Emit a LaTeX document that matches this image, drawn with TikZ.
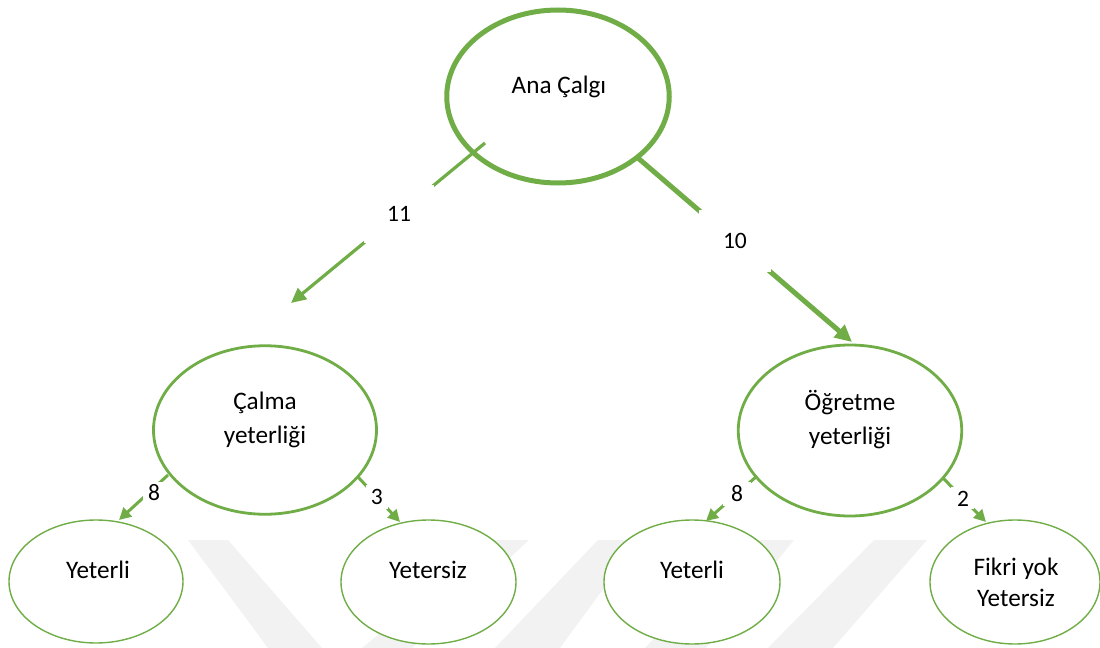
\documentclass[tikz,border=0pt]{standalone}
\usepackage{fontspec}
\setmainfont{Carlito}
\usetikzlibrary{shapes.geometric,arrows.meta}
\definecolor{leaf}{HTML}{70AD47}
\definecolor{wmark}{HTML}{F2F2F2}

\begin{document}
\begin{tikzpicture}[x=0.5pt,y=-0.5pt,
  bubble/.style={ellipse, draw=leaf, fill=white, inner sep=0pt, outer sep=0pt},
  rootbubble/.style={bubble, line width=2.5pt},
  midbubble/.style={bubble, line width=1.4pt},
  endbubble/.style={bubble, line width=0.7pt},
  caption/.style={font=\fontsize{12.6}{17}\selectfont, align=center, inner sep=0pt, text=black},
  count/.style={fill=white, inner sep=0pt, font=\fontsize{11.75}{14}\selectfont, text=black},
  biglink/.style={draw=leaf, line width=1.6pt, -{Triangle[length=7.5pt,width=7pt]}},
  heavylink/.style={draw=leaf, line width=2.5pt, -{Triangle[length=8.5pt,width=8pt]}},
  smalllink/.style={draw=leaf, line width=1.5pt, -{Triangle[length=6pt,width=6pt]}}
]
\useasboundingbox (0,0) rectangle (1100,648);

% faint background watermark bands
\fill[wmark] (188,540) -- (228,540) -- (322,648) -- (268,648) -- cycle;
\fill[wmark] (495,540) -- (529,540) -- (412,648) -- (362,648) -- cycle;
\fill[wmark] (598,540) -- (639,540) -- (560,648) -- (495,648) -- cycle;
\fill[wmark] (748,540) -- (794,540) -- (706,648) -- (645,648) -- cycle;
\fill[wmark] (874,540) -- (927,540) -- (833,648) -- (768,648) -- cycle;

% ellipses
\node[rootbubble, minimum width=111.25pt, minimum height=86.5pt] (ana) at (558,96.5) {};
\node[midbubble, minimum width=111.5pt, minimum height=84.25pt] (calma) at (265,430) {};
\node[midbubble, minimum width=111.75pt, minimum height=85.5pt] (ogretme) at (850,430.5) {};
\node[endbubble, minimum width=87pt, minimum height=61.5pt] (cy) at (96,581.5) {};
\node[endbubble, minimum width=87.5pt, minimum height=62pt] (cn) at (428.5,582) {};
\node[endbubble, minimum width=88pt, minimum height=62pt] (oy) at (692,582) {};
\node[endbubble, minimum width=85pt, minimum height=62pt] (on) at (1015,582) {};

% texts
\node[caption, anchor=base] (anaT) at (559,93) {Ana Çalgı};
\node[caption] (calmaT) at (265,420) {Çalma\\yeterliği};
\node[caption] (ogretmeT) at (850,420) {Öğretme\\yeterliği};
\node[caption, anchor=base] (cyT) at (98,578) {Yeterli};
\node[caption, anchor=base] (cnT) at (428,578) {Yetersiz};
\node[caption, anchor=base] (oyT) at (692,578) {Yeterli};
\node[caption, font=\fontsize{12.6}{15.5}\selectfont] (onT) at (1016,582) {Fikri yok\\Yetersiz};

% connector end points
\coordinate (s1) at (485,143);
\coordinate (t1) at (291,303);
\coordinate (s2) at (638,158);
\coordinate (t2) at (852,342);
\coordinate (s3) at (168,475);
\coordinate (t3) at (119,520);
\coordinate (s4) at (358,477);
\coordinate (t4) at (400,522);
\coordinate (s5) at (757,476);
\coordinate (t5) at (706,521);
\coordinate (s6) at (943,478);
\coordinate (t6) at (986,522);

% connectors with their counts
\draw[biglink] (s1) -- node[count, pos=0.443, minimum width=35pt, minimum height=29pt] (n11) {11} (t1);
\draw[heavylink] (s2) -- node[count, pos=0.453, minimum width=36pt, minimum height=31pt] (n10) {10} (t2);
\draw[smalllink] (s3) -- node[count, pos=0.286, yshift=-2.5pt, minimum width=11pt, minimum height=11pt] (n8a) {8} (t3);
\draw[smalllink] (s4) -- node[count, pos=0.45, minimum width=11pt, minimum height=12pt] (n3) {3} (t4);
\draw[smalllink] (s5) -- node[count, pos=0.39, minimum width=14pt, minimum height=12pt] (n8b) {8} (t5);
\draw[smalllink] (s6) -- node[count, pos=0.465, minimum width=11.5pt, minimum height=11pt] (n2) {2} (t6);
\end{tikzpicture}
\end{document}
